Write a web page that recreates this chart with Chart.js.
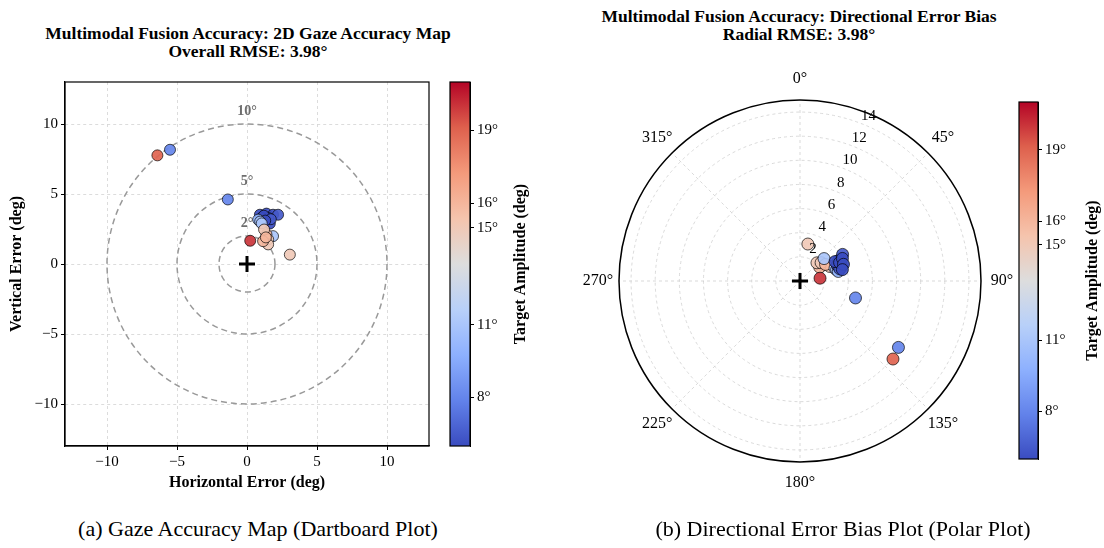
<!DOCTYPE html>
<html>
<head>
<meta charset="utf-8">
<script src="https://cdn.jsdelivr.net/npm/chart.js@4.4.0/dist/chart.umd.min.js"></script>
<style>
  body { margin: 0; width: 1104px; height: 548px; background: #fff; position: relative; overflow: hidden; font-family: 'Liberation Serif', 'DejaVu Serif', serif; color: #000; }
  .box { position: absolute; }
  .title { position: absolute; text-align: center; font-weight: bold; font-size: 17.5px; line-height: 17.5px; white-space: nowrap; transform: translateX(-50%); }
  .cap { position: absolute; font-size: 22px; white-space: nowrap; transform: translateX(-50%); }
</style>
</head>
<body>
<div class="title" style="left:248px;top:25px">Multimodal Fusion Accuracy: 2D Gaze Accuracy Map<br>Overall RMSE: 3.98°</div>
<div class="title" style="left:799px;top:8px">Multimodal Fusion Accuracy: Directional Error Bias<br>Radial RMSE: 3.98°</div>

<div class="box" style="left:0;top:70px;width:440px;height:426px"><canvas id="dart"></canvas></div>
<div class="box" style="left:440px;top:70px;width:112px;height:440px"><canvas id="cbLeft"></canvas></div>
<div class="box" style="left:552px;top:0;width:552px;height:548px"><canvas id="polar"></canvas></div>
<div class="box" style="left:1009px;top:90px;width:95px;height:381px"><canvas id="cbRight"></canvas></div>

<div class="cap" style="left:258px;top:516px">(a) Gaze Accuracy Map (Dartboard Plot)</div>
<div class="cap" style="left:843px;top:516px">(b) Directional Error Bias Plot (Polar Plot)</div>

<script>
// datos: error horizontal / vertical (deg) y amplitud del objetivo
const errX = [-6.40, -5.50, -1.37, 0.23, 3.06, 0.92, 1.39, 1.86, 2.22, 1.51, 1.63, 1.03, 1.20, 1.70, 1.30,
              0.80, 0.94, 1.86, 1.05, 1.39, 1.51, 1.51, 1.15, 1.22, 1.35];
const errY = [7.76, 8.16, 4.61, 1.66, 0.67, 3.52, 3.60, 3.52, 3.52, 3.29, 2.89, 3.29, 3.45, 3.20, 3.10,
              3.17, 3.03, 1.99, 2.90, 2.11, 1.76, 1.40, 1.63, 2.46, 1.90];
const amplitude = [19, 8, 8, 20, 15, 6, 6, 6, 6.5, 6, 6, 6.5, 6, 6.5, 6,
                   10, 11, 11, 11, 16, 15, 15, 16, 15, 16];

const ampRange = [6, 21];
const ampTicks = [8, 11, 15, 16, 19];
const xyTicks = [-10, -5, 0, 5, 10];
const xyRange = [-13, 13];
const ringRadii = [2, 5, 10];
const radialTicks = [0, 2, 4, 6, 8, 10, 12, 14];
const radialMax = 15;
const angleTicks = [0, 45, 90, 135, 180, 225, 270, 315];

const FONT = "'Liberation Serif', 'DejaVu Serif', serif";
Chart.defaults.font.family = FONT;
Chart.defaults.color = '#000';
Chart.defaults.animation = false;
Chart.defaults.plugins.legend.display = false;
Chart.defaults.plugins.tooltip.enabled = false;

// mapa de colores coolwarm
const coolwarm = [[58,76,192],[98,130,234],[141,176,254],[184,208,249],[221,221,221],
                  [245,196,173],[244,154,123],[222,96,77],[180,4,38]];
function cmap(t, a) {
  t = Math.max(0, Math.min(1, t));
  const p = t * (coolwarm.length - 1);
  const i = Math.min(Math.floor(p), coolwarm.length - 2);
  const f = p - i;
  const c = coolwarm[i].map((v, k) => Math.round(v + (coolwarm[i + 1][k] - v) * f));
  return a === undefined ? `rgb(${c})` : `rgba(${c},${a})`;
}
const ampColor = (v, a) => cmap((v - ampRange[0]) / (ampRange[1] - ampRange[0]), a);
const pointColors = amplitude.map(v => ampColor(v, 0.92));

const minus = v => String(v).replace('-', '\u2212');

// marco alrededor del área del gráfico
const framePlugin = {
  id: 'frame',
  afterDraw(chart) {
    const {ctx, chartArea: a} = chart;
    ctx.save();
    ctx.strokeStyle = '#000';
    ctx.lineWidth = 1.2;
    ctx.strokeRect(a.left, a.top, a.right - a.left, a.bottom - a.top);
    ctx.restore();
  }
};

// círculos de la diana
const ringsPlugin = {
  id: 'rings',
  beforeDatasetsDraw(chart) {
    const {ctx, scales: {x, y}} = chart;
    const cx = x.getPixelForValue(0), cy = y.getPixelForValue(0);
    ctx.save();
    ctx.strokeStyle = '#999';
    ctx.lineWidth = 1.5;
    ctx.setLineDash([6, 4]);
    ringRadii.forEach(r => {
      const rp = x.getPixelForValue(r) - cx;
      ctx.beginPath();
      ctx.arc(cx, cy, rp, 0, Math.PI * 2);
      ctx.stroke();
    });
    ctx.setLineDash([]);
    ctx.fillStyle = '#6e6e6e';
    ctx.font = 'bold 14px ' + FONT;
    ctx.textAlign = 'center';
    ctx.textBaseline = 'middle';
    ringRadii.forEach(r => {
      ctx.fillText(r + '°', cx, y.getPixelForValue(r + 0.9));
    });
    ctx.restore();
  }
};

const axisCommon = {
  min: xyRange[0], max: xyRange[1],
  afterBuildTicks: s => { s.ticks = xyTicks.map(v => ({value: v})); },
  grid: { color: '#d4d4d4', lineWidth: 0.8, borderDash: [3, 3], tickColor: '#000', tickLength: 4, tickBorderDash: [], tickWidth: 1 },
  border: { color: '#000', width: 1.2, dash: [3, 3] },
  ticks: { font: {size: 15}, padding: 3, callback: v => minus(v) },
  title: { display: true, font: {size: 16, weight: 'bold'}, padding: {top: 2, bottom: 4} }
};

new Chart(document.getElementById('dart'), {
  type: 'scatter',
  data: {
    datasets: [
      {
        data: errX.map((x, i) => ({x, y: errY[i]})),
        pointRadius: 5.5,
        pointBackgroundColor: pointColors,
        pointBorderColor: 'rgba(0,0,0,0.85)',
        pointBorderWidth: 0.8
      },
      {
        data: [{x: 0, y: 0}],
        pointStyle: 'cross',
        pointRadius: 8,
        pointBorderWidth: 3,
        pointBorderColor: '#000'
      }
    ]
  },
  options: {
    responsive: true,
    maintainAspectRatio: false,
    layout: { padding: {top: 9, right: 8, left: 5, bottom: 0} },
    scales: {
      x: { ...axisCommon, title: {...axisCommon.title, text: 'Horizontal Error (deg)'},
           afterFit: s => { s.height = 50; } },
      y: { ...axisCommon, title: {...axisCommon.title, text: 'Vertical Error (deg)'},
           afterFit: s => { s.width = 60; } }
    }
  },
  plugins: [ringsPlugin, framePlugin]
});

// barra de color
function makeColorbar(id, labelX, axisWidth, pad) {
  const labelPlugin = {
    id: 'cbLabel',
    afterDraw(chart) {
      const {ctx, chartArea: a} = chart;
      ctx.save();
      ctx.translate(labelX, (a.top + a.bottom) / 2);
      ctx.rotate(-Math.PI / 2);
      ctx.font = 'bold 16px ' + FONT;
      ctx.fillStyle = '#000';
      ctx.textAlign = 'center';
      ctx.textBaseline = 'middle';
      ctx.fillText('Target Amplitude (deg)', 0, 0);
      ctx.restore();
    }
  };
  return new Chart(document.getElementById(id), {
    type: 'bar',
    data: {
      labels: [''],
      datasets: [{
        data: [ampRange],
        barPercentage: 1,
        categoryPercentage: 1,
        backgroundColor: c => {
          const {ctx, chartArea} = c.chart;
          if (!chartArea) return null;
          const g = ctx.createLinearGradient(0, chartArea.bottom, 0, chartArea.top);
          coolwarm.forEach((_, i) => g.addColorStop(i / (coolwarm.length - 1), cmap(i / (coolwarm.length - 1))));
          return g;
        }
      }]
    },
    options: {
      responsive: true,
      maintainAspectRatio: false,
      layout: { padding: pad },
      scales: {
        x: { display: false },
        y: {
          position: 'right',
          min: ampRange[0], max: ampRange[1],
          afterBuildTicks: s => { s.ticks = ampTicks.map(v => ({value: v})); },
          afterFit: s => { s.width = axisWidth; },
          grid: { drawOnChartArea: false, tickColor: '#000', tickLength: 4 },
          border: { color: '#000' },
          ticks: { font: {size: 15}, padding: 3, callback: v => v + '°' }
        }
      }
    },
    plugins: [framePlugin, labelPlugin]
  });
}
makeColorbar('cbLeft', 81, 82, {top: 9, bottom: 64, left: 10, right: 0});
makeColorbar('cbRight', 84, 66, {top: 9, bottom: 10, left: 10, right: 0});

// gráfico polar (escala radial, 0° arriba, sentido horario)
const polarLabels = Array.from({length: 360}, (_, i) => i);
const polarSets = errX.map((x, i) => {
  const y = errY[i];
  let th = Math.atan2(y, x) * 180 / Math.PI;
  if (th < 0) th += 360;
  const data = new Array(360).fill(null);
  data[Math.round(th) % 360] = Math.hypot(x, y);
  return {
    data,
    showLine: false,
    fill: false,
    pointRadius: 6,
    pointBackgroundColor: pointColors[i],
    pointBorderColor: 'rgba(0,0,0,0.85)',
    pointBorderWidth: 0.8
  };
});
const centerData = new Array(360).fill(null);
centerData[0] = 0;
polarSets.push({
  data: centerData, showLine: false, fill: false,
  pointStyle: 'cross', pointRadius: 8, pointBorderWidth: 3, pointBorderColor: '#000'
});

const polarTextPlugin = {
  id: 'polarText',
  afterDatasetsDraw(chart) {
    const {ctx} = chart;
    const s = chart.scales.r;
    ctx.save();
    ctx.fillStyle = '#000';
    ctx.textAlign = 'center';
    ctx.textBaseline = 'middle';
    ctx.font = '15px ' + FONT;
    radialTicks.filter(v => v > 0).forEach(v => {
      const p = s.getPointPosition(22.5, s.getDistanceFromCenterForValue(v) + 10);
      ctx.fillText(String(v), p.x, p.y);
    });
    ctx.font = '16px ' + FONT;
    angleTicks.forEach(a => {
      const p = s.getPointPosition(a, s.drawingArea + 21);
      ctx.fillText(a + '°', p.x, p.y);
    });
    ctx.strokeStyle = '#000';
    ctx.lineWidth = 1.5;
    ctx.beginPath();
    ctx.arc(s.xCenter, s.yCenter, s.drawingArea, 0, Math.PI * 2);
    ctx.stroke();
    ctx.restore();
  }
};

new Chart(document.getElementById('polar'), {
  type: 'radar',
  data: { labels: polarLabels, datasets: polarSets },
  options: {
    responsive: true,
    maintainAspectRatio: false,
    layout: { padding: {left: 67, top: 100, right: 123, bottom: 86} },
    elements: { line: { borderWidth: 0 } },
    scales: {
      r: {
        min: 0, max: radialMax, startAngle: 0,
        afterBuildTicks: s => { s.ticks = radialTicks.map(v => ({value: v})); },
        ticks: { display: false },
        pointLabels: { display: false },
        grid: { circular: true, color: '#d0d0d0', lineWidth: 0.8, borderDash: [3, 3] },
        border: { dash: [3, 3] },
        angleLines: {
          color: '#d0d0d0',
          lineWidth: c => (c.index % 45 === 0 ? 0.8 : 0),
          borderDash: [3, 3]
        }
      }
    }
  },
  plugins: [polarTextPlugin]
});
</script>
</body>
</html>
